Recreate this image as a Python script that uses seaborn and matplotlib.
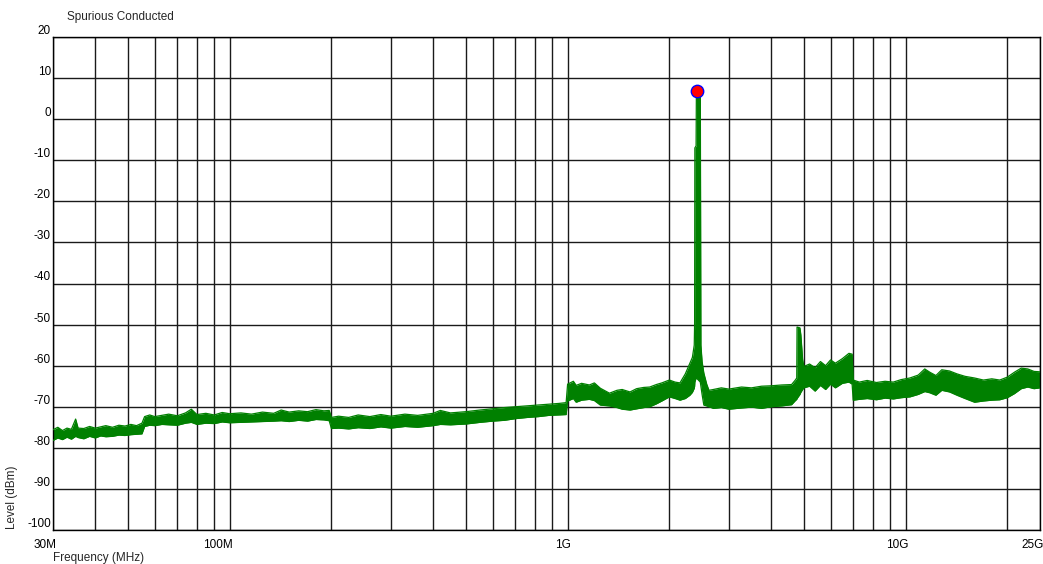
import matplotlib
matplotlib.use("Agg")
import matplotlib.pyplot as plt
import matplotlib.transforms as mtransforms
from matplotlib.ticker import FixedLocator, FixedFormatter, NullFormatter
import numpy as np
import pandas as pd
import seaborn as sns

# Conducted spurious emission sweep: upper / lower envelope of the trace (dBm)
freq_mhz = [
    30, 31, 32, 33, 34, 35, 35.6, 37, 38.5, 40, 41.5, 43, 45, 47, 49, 51, 53, 55,
    56, 58, 60, 63, 66, 70, 74, 77, 80, 85, 90, 95, 100, 108, 116, 125, 135, 142,
    150, 160, 170, 180, 190, 197,
    200, 210, 225, 240, 260, 280, 300, 330, 360, 400, 420, 450, 500, 550, 600,
    650, 700, 760, 820, 880, 940, 990,
    1000, 1040, 1060, 1100, 1160, 1200, 1250, 1330, 1400, 1450, 1530, 1600, 1680,
    1750, 1830, 1900, 2000, 2080, 2150, 2230, 2300, 2340, 2370,
    2376, 2380, 2400, 2405, 2470, 2480,
    2500, 2530, 2580, 2620, 2700, 2850, 3000, 3270, 3500, 3750, 4000, 4300, 4600,
    4720, 4765, 4775, 4870, 4900, 4960,
    5000, 5200, 5400, 5600, 5800, 6000, 6200, 6500, 6800, 6950,
    7000, 7300, 7700, 8200, 8700, 9200, 9700, 10300, 10900, 11400, 11800, 12300,
    12800, 13500, 14200, 15000, 16000, 17000, 18000, 19000, 20000, 21000, 22000,
    23000, 24000, 25000,
]
level_hi = [
    -75.6, -75.0, -75.8, -75.2, -75.5, -73.0, -75.2, -75.3, -74.8, -75.2, -74.9, -74.6, -75.0, -74.5, -74.7, -74.3, -74.6, -74.0,
    -72.4, -72.0, -72.4, -72.1, -71.8, -72.2, -71.5, -70.6, -71.9, -71.6, -72.0, -71.4, -71.7, -71.5, -71.8, -71.3, -71.6, -70.8,
    -71.3, -71.0, -71.2, -70.7, -71.0, -70.9,
    -72.6, -72.3, -72.6, -72.0, -72.4, -71.9, -72.3, -71.8, -72.1, -71.6, -70.9, -71.5, -71.2, -70.8, -70.5,
    -70.2, -70.0, -69.8, -69.6, -69.4, -69.2, -69.0,
    -64.5, -63.8, -64.8, -64.3, -64.7, -64.2, -65.5, -66.7, -66.0, -65.8, -66.4, -65.6, -65.3,
    -65.2, -64.6, -64.2, -63.5, -64.0, -64.2, -62.0, -59.4, -58.0, -55.0,
    -50.0, -7.0, -6.5, 6.9, 6.9, -55.0,
    -59.0, -61.8, -64.5, -66.0, -65.8, -65.4, -65.7, -65.2, -65.4, -65.0, -64.9, -64.7, -64.6,
    -63.5, -63.0, -50.6, -50.8, -52.5, -58.5,
    -60.2, -59.6, -60.5, -59.0, -60.0, -58.6, -59.4, -58.3, -57.0, -57.2,
    -63.5, -64.0, -63.6, -64.1, -63.8, -64.0, -63.4, -63.0, -62.3, -60.8, -61.6, -62.4,
    -61.0, -61.3, -62.0, -62.6, -63.0, -63.5, -63.2, -63.5, -62.8, -61.6, -60.6,
    -60.8, -61.4, -61.5,
]
level_lo = [
    -78.2, -77.6, -78.0, -77.4, -77.9, -77.2, -77.5, -77.8, -77.2, -77.6, -77.1, -77.3, -77.2, -76.9, -77.0, -76.8, -76.7, -76.6,
    -74.8, -74.5, -74.6, -74.3, -74.4, -74.5, -74.0, -73.8, -74.3, -74.0, -74.1, -73.7, -73.9, -73.8, -73.7, -73.6, -73.5, -73.4,
    -73.6, -73.3, -73.5, -73.1, -73.2, -73.4,
    -75.3, -75.2, -75.4, -75.1, -75.3, -74.9, -75.2, -74.8, -75.0, -74.6, -74.3, -74.4, -74.2, -73.8, -73.5,
    -73.3, -72.9, -72.6, -72.4, -72.1, -72.0, -71.9,
    -68.6, -68.0, -68.9, -68.4, -68.2, -68.5, -69.6, -69.8, -70.2, -70.6, -70.8, -70.5, -70.2,
    -70.0, -69.3, -68.6, -67.6, -68.0, -68.4, -68.0, -67.2, -66.5, -65.5,
    -65.0, -64.0, -63.0, -63.0, -64.0, -65.0,
    -67.0, -69.6, -69.8, -70.0, -70.4, -70.2, -70.6, -70.3, -70.1, -70.4, -70.0, -69.8, -69.5,
    -68.5, -68.2, -68.0, -67.0, -66.5, -65.8,
    -65.4, -65.0, -66.2, -64.8, -65.8, -64.5, -65.4, -64.3, -64.0, -64.5,
    -68.4, -68.2, -68.0, -68.3, -67.9, -68.1, -67.8, -67.6, -67.0, -66.3, -66.6, -67.2,
    -66.0, -66.4, -67.2, -68.0, -68.9, -68.6, -68.4, -68.3, -67.8, -66.8, -65.6,
    -65.2, -65.6, -65.4,
]

peak_freq = [2412]
peak_level = [6.9]

x_major = [30, 100, 1000, 10000, 25000]
x_major_labels = ["30M", "100M", "1G", "10G", "25G"]
x_minor = [40, 50, 60, 70, 80, 90,
           200, 300, 400, 500, 600, 700, 800, 900,
           2000, 3000, 4000, 5000, 6000, 7000, 8000, 9000,
           20000]
y_ticks = list(range(-100, 21, 10))

trace = pd.DataFrame({"freq": freq_mhz, "hi": level_hi, "lo": level_lo})
marker = pd.DataFrame({"freq": peak_freq, "level": peak_level})

sns.set_theme(style="white")
plt.rcParams["font.family"] = ["Liberation Sans", "DejaVu Sans"]

TRACE = "#008000"
GRID = "#1a1a1a"

fig = plt.figure(figsize=(10.43, 5.64), dpi=100)
ax = fig.add_axes([53 / 1043, 34 / 564, 987 / 1043, 493 / 564])
ax.set_xscale("log")

ax.fill_between(trace["freq"], trace["lo"], trace["hi"], color=TRACE, lw=0, zorder=2)
sns.lineplot(data=trace, x="freq", y="hi", color=TRACE, lw=0.9, ax=ax, zorder=3)
sns.lineplot(data=trace, x="freq", y="lo", color=TRACE, lw=0.9, ax=ax, zorder=3)
sns.scatterplot(data=marker, x="freq", y="level", s=80, color="red",
                edgecolor="blue", linewidth=1.0, ax=ax, zorder=5)

ax.set_xlim(30, 25000)
ax.set_ylim(-100, 20)

ax.xaxis.set_major_locator(FixedLocator(x_major))
ax.xaxis.set_major_formatter(FixedFormatter(x_major_labels))
ax.xaxis.set_minor_locator(FixedLocator(x_minor))
ax.xaxis.set_minor_formatter(NullFormatter())
ax.set_yticks(y_ticks)
ax.set_yticklabels([str(v) for v in y_ticks])

ax.set_axisbelow(True)
ax.grid(which="both", axis="x", color=GRID, lw=1.0)
ax.grid(which="major", axis="y", color=GRID, lw=1.0)
ax.tick_params(axis="both", which="both", length=0, labelsize=8.5, colors="black")
ax.tick_params(axis="x", pad=6.5)
ax.tick_params(axis="y", pad=1.5)

shift_x = mtransforms.ScaledTranslation(3.5 / 100, 0, fig.dpi_scale_trans)
for lab in ax.get_xticklabels():
    lab.set_horizontalalignment("right")
    lab.set_transform(lab.get_transform() + shift_x)
for lab in ax.get_yticklabels():
    lab.set_verticalalignment("bottom")

for sp in ax.spines.values():
    sp.set_color("black")
    sp.set_linewidth(1.0)

ax.set_xlabel("")
ax.set_ylabel("")
fig.text(67 / 1043, 1 - 17 / 564, "Spurious Conducted", fontsize=8.5,
         ha="left", va="center")
fig.text(12 / 1043, 1 - 497 / 564, "Level (dBm)", fontsize=8.5, rotation=90,
         ha="center", va="center")
fig.text(53 / 1043, 1 - 558 / 564, "Frequency (MHz)", fontsize=8.5,
         ha="left", va="center")

fig.savefig("out.png", dpi=100)
